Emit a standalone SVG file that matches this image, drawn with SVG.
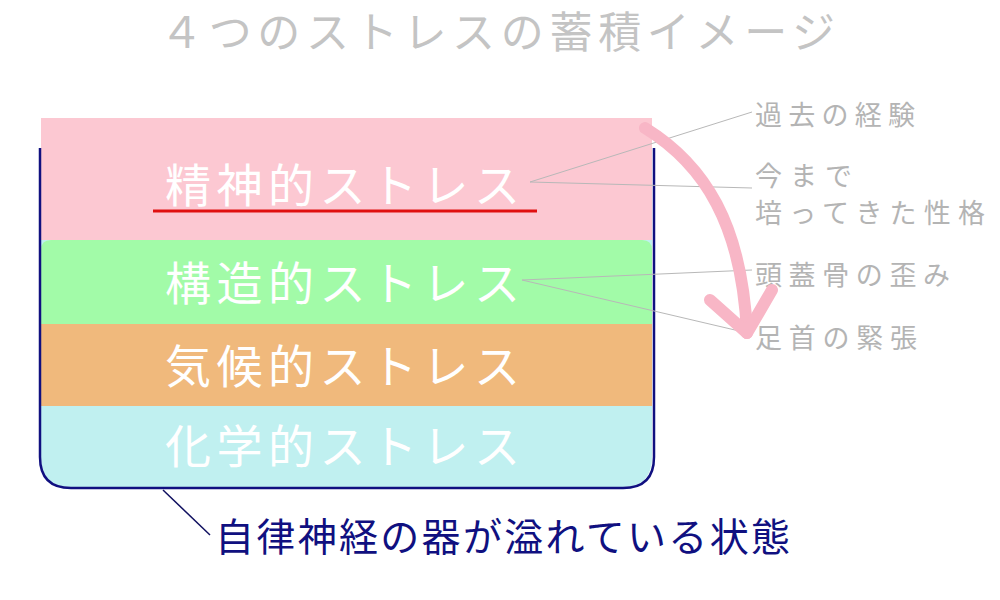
<svg xmlns="http://www.w3.org/2000/svg" width="1000" height="600" viewBox="0 0 1000 600">
<style>
text{font-family:"Noto Sans CJK JP","Noto Sans",sans-serif}
.layer{font-size:46px;fill:#ffffff}
.lab{font-size:27px;fill:#b4b4b4}
.call{stroke:#b8b8b8;stroke-width:1;fill:none}
</style>
<rect width="1000" height="600" fill="#ffffff"/>
<g id="title"><text x="160" y="48" font-size="43" fill="#c4c4c4" textLength="675" lengthAdjust="spacing">４つのストレスの蓄積イメージ</text></g>
<g id="container">
<path d="M41 240 H652 V457 Q652 487 622 487 H71 Q41 487 41 457 Z" fill="#c0f0f0"/>
<rect x="41" y="118" width="611" height="122" fill="#fcc8d2"/>
<path d="M41 324 V250 Q41 240 51 240 H642 Q652 240 652 250 V324 Z" fill="#a2fba8"/>
<rect x="41" y="324" width="611" height="82" fill="#f0b97c"/>
<path d="M40 148 V457 Q40 488 71 488 H623 Q654 488 654 457 V148" fill="none" stroke="#101080" stroke-width="2.5"/>
</g>
<g id="layer-mental"><text class="layer" x="165" y="202" textLength="355" lengthAdjust="spacing">精神的ストレス</text><line x1="153" y1="211" x2="537" y2="211" stroke="#e01010" stroke-width="3"/></g>
<g id="layer-structural"><text class="layer" x="165" y="300" textLength="355" lengthAdjust="spacing">構造的ストレス</text></g>
<g id="layer-climate"><text class="layer" x="165" y="383" textLength="355" lengthAdjust="spacing">気候的ストレス</text></g>
<g id="layer-chemical"><text class="layer" x="165" y="463" textLength="355" lengthAdjust="spacing">化学的ストレス</text></g>
<g id="labels">
<text class="lab" x="755" y="125" textLength="160" lengthAdjust="spacing">過去の経験</text>
<text class="lab" x="755" y="186" font-size="25.5" textLength="97" lengthAdjust="spacing">今まで</text>
<text class="lab" x="755" y="223" font-size="25.5" textLength="230" lengthAdjust="spacing">培ってきた性格</text>
<text class="lab" x="755" y="285" textLength="195" lengthAdjust="spacing">頭蓋骨の歪み</text>
<text class="lab" x="755" y="348" textLength="162" lengthAdjust="spacing">足首の緊張</text>
</g>
<g id="connectors">
<line class="call" x1="530" y1="182" x2="752" y2="112"/>
<line class="call" x1="530" y1="182" x2="752" y2="188"/>
<line class="call" x1="522" y1="280" x2="752" y2="270"/>
<line class="call" x1="522" y1="280" x2="752" y2="334"/>
<path d="M645 128 C705 165 742 225 747 333" fill="none" stroke="#f8b6c6" stroke-width="12" stroke-linecap="round"/>
<path d="M710 300 L747 333 L772 290" fill="none" stroke="#f8b6c6" stroke-width="12" stroke-linecap="round" stroke-linejoin="round"/>
<line x1="163" y1="490" x2="210" y2="535" stroke="#101060" stroke-width="1.5"/>
</g>
<g id="caption"><text x="215" y="551" font-size="39" fill="#101080" textLength="575" lengthAdjust="spacing">自律神経の器が溢れている状態</text></g>
</svg>
